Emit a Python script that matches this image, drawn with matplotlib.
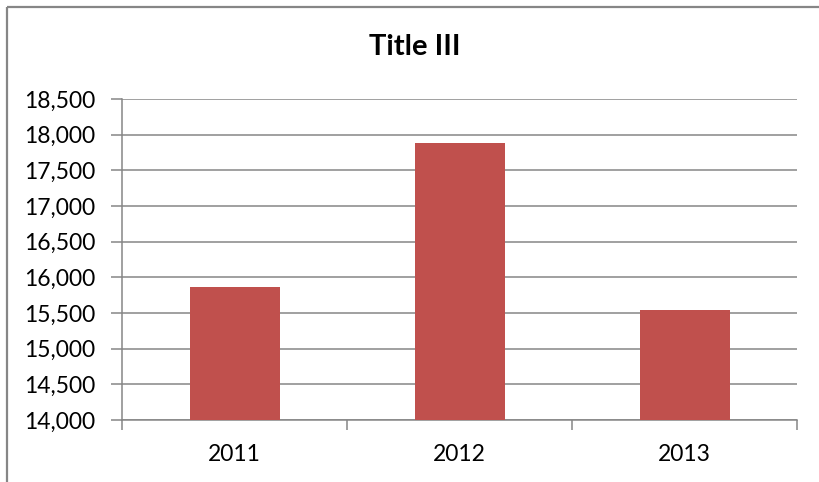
import matplotlib
matplotlib.use("Agg")
import matplotlib.pyplot as plt
from matplotlib.lines import Line2D
from matplotlib.ticker import FuncFormatter, MultipleLocator

years = ["2011", "2012", "2013"]
values = [15861, 17877, 15543]
title = "Title III"

bar_color = "#C0504D"
axis_color = "#868686"

plt.rcParams["font.family"] = ["Lato", "DejaVu Sans"]

W, H = 819, 482
fig = plt.figure(figsize=(W / 100, H / 100), dpi=100)
fig.patch.set_facecolor("white")

# chart-area frame (top and left edges)
fx, fy = 6.5 / W, 1 - 6.5 / H
fig.add_artist(Line2D([fx, 1.02], [fy, fy], transform=fig.transFigure,
                      color=axis_color, linewidth=1.6, solid_capstyle="butt"))
fig.add_artist(Line2D([fx, fx], [-0.02, fy], transform=fig.transFigure,
                      color=axis_color, linewidth=1.6, solid_capstyle="butt"))

ax = fig.add_axes([122 / W, 1 - 420 / H, (797 - 122) / W, (420 - 99) / H])
x = list(range(len(years)))
ax.bar(x, values, width=0.4, color=bar_color, zorder=3)

ax.set_xlim(-0.5, len(years) - 0.5)
ax.set_ylim(14000, 18500)
ax.yaxis.set_major_locator(MultipleLocator(500))
ax.yaxis.set_major_formatter(FuncFormatter(lambda v, p: f"{int(v):,}"))
ax.grid(axis="y", color=axis_color, linewidth=1.1, zorder=0)

for side in ["top", "right"]:
    ax.spines[side].set_visible(False)
for side in ["left", "bottom"]:
    ax.spines[side].set_color(axis_color)
    ax.spines[side].set_linewidth(1.1)

ax.set_xticks(x)
ax.set_xticklabels(years)
ax.tick_params(axis="x", length=0, pad=17, labelsize=16.5, colors="black")
ax.set_xticks([-0.5, 0.5, 1.5, 2.5], minor=True)
ax.tick_params(axis="x", which="minor", length=7, width=1.1, color=axis_color)
ax.tick_params(axis="y", length=8, width=1.1, color=axis_color, labelsize=16.5,
               pad=11, labelcolor="black")

fig.text(415 / W, 1 - 47 / H, title, ha="center", va="center",
         fontsize=21, fontweight="bold")

fig.savefig("out.png", dpi=100, facecolor="white")
